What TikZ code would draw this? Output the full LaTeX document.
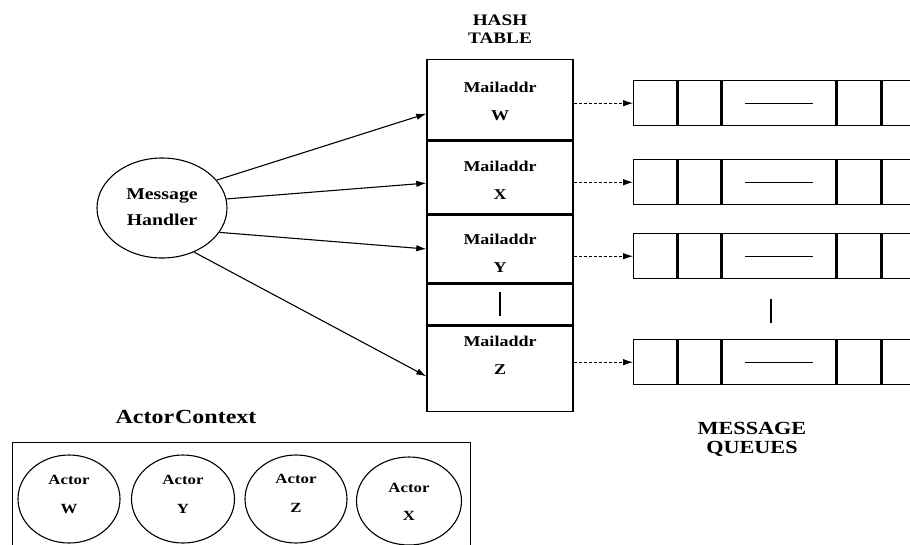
\documentclass[tikz,border=0pt]{standalone}
\usepackage{fontspec}
\setmainfont{Liberation Serif}[FakeStretch=1.2]
\usetikzlibrary{shapes.geometric,arrows.meta,calc}
\begin{document}
\begin{tikzpicture}[x=1pt,y=-1pt,
  box/.style={draw, line width=1.4pt, inner sep=0pt},
  cell/.style={box, minimum width=146pt, anchor=north},
  qcell/.style={box, minimum height=45pt, anchor=north west},
  oval/.style={draw, ellipse, line width=1.1pt, inner sep=0pt},
  lbl/.style={font=\bfseries\fontsize{15}{28}\selectfont, align=center, inner sep=0pt},
  harrow/.style={-{Latex[length=10pt,width=6.5pt]}, line width=1.1pt},
  qarrow/.style={-{Latex[length=10pt,width=6.5pt]}, line width=0.8pt, densely dashed},
  tick/.style={line width=1.1pt}
]
\useasboundingbox (0,0) rectangle (910,544);

% Hash table
\node[lbl, font=\bfseries\fontsize{16}{18}\selectfont] (ht) at (500,29) {HASH\\TABLE};
\node[cell, minimum height=80pt] (hW) at (500,59) {};
\node[cell, minimum height=73pt] (hX) at (hW.south) {};
\node[cell, minimum height=67pt] (hY) at (hX.south) {};
\node[cell, minimum height=41pt] (hG) at (hY.south) {};
\node[cell, minimum height=85pt] (hZ) at (hG.south) {};
\draw[tick] ($(hG.center)+(0,-12)$) -- ($(hG.center)+(0,12)$);
\node[lbl] (tW) at (500,101) {Mailaddr\\W};
\node[lbl] (tX) at (500,180.5) {Mailaddr\\X};
\node[lbl] (tY) at (500,253.5) {Mailaddr\\Y};
\node[lbl] (tZ) at (500,355) {Mailaddr\\Z};

% Message queues
\foreach \i/\y in {1/80,2/159,3/233,4/339} {
  \node[qcell, minimum width=43pt] (q\i a) at (633,\y) {};
  \node[qcell, minimum width=43pt] (q\i b) at (q\i a.north east) {};
  \node[qcell, minimum width=113pt] (q\i c) at (q\i b.north east) {};
  \node[qcell, minimum width=44pt] (q\i d) at (q\i c.north east) {};
  \node[qcell, minimum width=44pt] (q\i e) at (q\i d.north east) {};
  \draw[line width=0.9pt] ($(q\i c.center)+(-34,0)$) -- ($(q\i c.center)+(34,0)$);
}
\coordinate (qg) at (771,311);
\draw[tick] ($(qg)+(0,-12)$) -- ($(qg)+(0,12)$);
\node[lbl, font=\bfseries\fontsize{18.5}{19}\selectfont] (mq) at (752,439) {MESSAGE\\QUEUES};

% hash -> queue connectors
\draw[qarrow] (q1a.west -| hW.east) -- (q1a.west);
\draw[qarrow] (q2a.west -| hX.east) -- (q2a.west);
\draw[qarrow] (q3a.west -| hY.east) -- (q3a.west);
\draw[qarrow] (q4a.west -| hZ.east) -- (q4a.west);

% Message handler
\node[oval, minimum width=130pt, minimum height=100pt] (mh) at (162,208) {};
\node[lbl, font=\bfseries\fontsize{16.5}{26}\selectfont] (mht) at (162,207) {Message\\Handler};
\draw[harrow] (mh.27) -- ($(hW.west)+(0,14)$);
\draw[harrow] (mh.8) -- ($(hX.west)+(0,5.5)$);
\draw[harrow] (mh.-23) -- (hY.west);
\draw[harrow] (mh.-54) -- ($(hZ.west)+(0,7.5)$);

% Actor context
\node[lbl, font=\bfseries\fontsize{20}{20}\selectfont] (act) at (186,417) {Actor\kern1pt Context};
\node[box, anchor=north west, minimum width=458pt, minimum height=110pt] (ac) at (12,442) {};
\node[oval, minimum width=102pt, minimum height=88pt] (aW) at (69,499) {};
\node[oval, minimum width=103pt, minimum height=88pt] (aY) at (183,499) {};
\node[oval, minimum width=102pt, minimum height=88pt] (aZ) at (296,499) {};
\node[oval, minimum width=105pt, minimum height=88pt] (aX) at (409,501) {};
\node[lbl, font=\bfseries\fontsize{14}{29}\selectfont] (aWt) at (69,494) {Actor\\W};
\node[lbl, font=\bfseries\fontsize{14}{29}\selectfont] (aYt) at (183,494) {Actor\\Y};
\node[lbl, font=\bfseries\fontsize{14}{29}\selectfont] (aZt) at (296,493) {Actor\\Z};
\node[lbl, font=\bfseries\fontsize{14}{28}\selectfont] (aXt) at (409,502) {Actor\\X};
\end{tikzpicture}
\end{document}
